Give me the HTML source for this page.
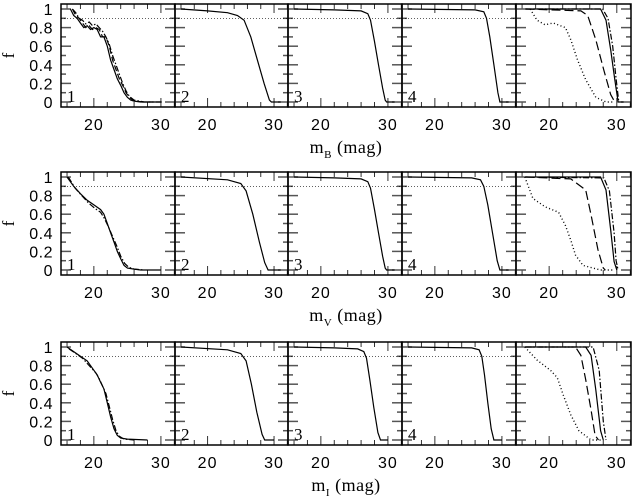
<!DOCTYPE html>
<html><head><meta charset="utf-8">
<style>
html,body{margin:0;padding:0;background:#fff;}
svg{display:block;font-family:"Liberation Sans",sans-serif;}
</style></head>
<body>
<svg id="chart" width="632" height="497" viewBox="0 0 632 497" xmlns="http://www.w3.org/2000/svg"></svg>
<script>
// ---- data ----
const bandLabels = ['B','V','I'];
const yTickLabels = ['0','0.2','0.4','0.6','0.8','1'];
const xTickLabels = ['20','30'];
// Row B
const b1aM=[16.5,17,17.5,18,18.5,19,19.5,20,20.5,21,21.5,22,22.5,23,23.5,24,24.5,25,25.5,26,27,30];
const b1aF=[1.0,0.93,0.9,0.85,0.8,0.82,0.78,0.8,0.78,0.7,0.7,0.6,0.45,0.35,0.25,0.18,0.1,0.05,0.02,0.01,0,0];
const b1bM=[16.8,17.3,17.8,18.3,18.8,19.3,19.8,20.3,20.8,21.3,21.8,22.3,22.8,23.3,23.8,24.3,24.8,25.3,26,27.5,29];
const b1bF=[1.0,0.96,0.9,0.88,0.84,0.86,0.82,0.84,0.8,0.76,0.7,0.62,0.5,0.4,0.3,0.2,0.12,0.06,0.02,0,0];
const b2M=[16,20,23,24.5,25.5,26.5,27.5,28.5,29.3,29.6,31];
const b2F=[1.0,0.98,0.96,0.93,0.88,0.7,0.45,0.2,0.02,0,0];
const b3M=[16,22,26,27,27.4,28,28.6,29.2,29.6,29.8,31];
const b3F=[1,0.99,0.98,0.95,0.88,0.65,0.4,0.15,0.02,0,0];
const b4M=[16,26,27.3,27.7,28.2,28.8,29.4,29.7,31];
const b4F=[1,0.99,0.97,0.9,0.7,0.4,0.1,0,0];
const b5dotM=[17.2,18.2,19.4,20.6,22.4,23.2,24.2,25.4,26.9,28.4,29.4];
const b5dotF=[1.0,0.88,0.83,0.85,0.8,0.67,0.45,0.24,0.05,0,0];
const b5dashM=[16.5,24.7,25.7,26.9,28.1,29.1,29.7];
const b5dashF=[1,0.98,0.93,0.67,0.34,0.08,0];
const b5solM=[16.5,27.6,28.4,29.1,29.7,30.2,31];
const b5solF=[1,1,0.88,0.56,0.24,0,0];
const b5ddM=[16.5,27.9,28.7,29.4,29.9,30.3];
const b5ddF=[1,1,0.9,0.6,0.25,0];
// Row V
const v1aM=[16,17,18,19,20,21,21.5,22,22.5,23,23.5,24,24.5,25,26,27,30];
const v1aF=[1.0,0.9,0.82,0.75,0.7,0.65,0.6,0.5,0.4,0.3,0.2,0.12,0.05,0.02,0.01,0,0];
const v1bM=[16.2,17.2,18.2,19.2,20.2,21,21.6,22.2,22.8,23.4,24,24.6,25.2,26,27.5];
const v1bF=[1.0,0.88,0.8,0.72,0.66,0.62,0.55,0.46,0.36,0.26,0.15,0.07,0.03,0.01,0];
const v2M=[16,23,25,25.8,26.8,27.8,28.6,29.1,31];
const v2F=[1,0.97,0.93,0.85,0.6,0.3,0.08,0,0];
const v3M=[16,22,26,27,27.4,28,28.6,29.2,29.6,29.8,31];
const v3F=[1,0.99,0.98,0.95,0.88,0.65,0.4,0.15,0.02,0,0];
const v4M=[16,25.5,26.8,27.3,27.9,28.6,29.3,29.7,31];
const v4F=[1,0.99,0.97,0.9,0.7,0.4,0.1,0,0];
const v5dotM=[16.4,17.6,19.4,21.4,22.4,23.2,23.9,25,27.6,29.6];
const v5dotF=[1.0,0.77,0.68,0.62,0.48,0.32,0.16,0.05,0,0];
const v5dashM=[16.5,23.2,25.4,26.2,27.2,28,28.3];
const v5dashF=[1,0.98,0.86,0.59,0.22,0.02,0];
const v5solM=[16.5,27.6,28.4,29.1,29.6,30];
const v5solF=[1,1,0.86,0.43,0.09,0];
const v5ddM=[16.5,28.1,28.9,29.6,29.9,30.2];
const v5ddF=[1,0.99,0.85,0.4,0.1,0];
// Row I
const i1aM=[16,17,18,19,20,20.5,21,21.5,22,22.5,23,23.5,24,25,28];
const i1aF=[1.0,0.95,0.9,0.85,0.75,0.7,0.62,0.55,0.4,0.25,0.12,0.05,0.02,0.01,0];
const i1bM=[16.3,17.3,18.3,19.3,20.3,20.8,21.3,21.8,22.3,22.8,23.3,23.8,24.5,26];
const i1bF=[0.98,0.93,0.88,0.8,0.72,0.66,0.58,0.5,0.36,0.22,0.1,0.04,0.01,0];
const i2M=[16,23,25,25.8,26.6,27.4,28.2,28.6,30];
const i2F=[1,0.97,0.93,0.85,0.6,0.3,0.06,0,0];
const i3M=[16,22,25.5,26.4,26.8,27.3,27.9,28.5,28.9,30];
const i3F=[1,0.99,0.98,0.95,0.88,0.65,0.35,0.08,0,0];
const i4M=[16,25.5,26.6,27,27.4,27.9,28.4,28.8,30];
const i4F=[1,0.99,0.97,0.9,0.7,0.4,0.12,0,0];
const i5dotM=[16.4,18.2,20.2,21.2,22.1,23.2,24.4,26.2,28];
const i5dotF=[1.0,0.86,0.75,0.67,0.48,0.27,0.1,0,0];
const i5dashM=[16.5,23.9,24.7,25.4,26.2,26.8,27.3];
const i5dashF=[1,1,0.91,0.65,0.32,0.05,0];
const i5solM=[16.5,25.4,26.2,26.9,27.6,28];
const i5solF=[1,1,0.91,0.54,0.1,0];
const i5ddM=[16.5,26.5,27.4,28,28.4];
const i5ddF=[1,1,0.75,0.2,0];

const STY={solid:'',dash:'6 3',ldash:'9 4',dot:'1 2.5',dd:'6 2 1.5 2'};
const rowsData=[
 [[[b1aM,b1aF,'solid'],[b1bM,b1bF,'dd'],[b1aM.map(m=>m+0.3),b1aF,'dash']],[[b2M,b2F,'solid']],[[b3M,b3F,'solid']],[[b4M,b4F,'solid']],
  [[b5dotM,b5dotF,'dot'],[b5dashM,b5dashF,'ldash'],[b5solM,b5solF,'solid'],[b5ddM,b5ddF,'dd']]],
 [[[v1aM,v1aF,'solid'],[v1bM,v1bF,'dd']],[[v2M,v2F,'solid']],[[v3M,v3F,'solid']],[[v4M,v4F,'solid']],
  [[v5dotM,v5dotF,'dot'],[v5dashM,v5dashF,'ldash'],[v5solM,v5solF,'solid'],[v5ddM,v5ddF,'dd']]],
 [[[i1aM,i1aF,'solid'],[i1bM,i1bF,'dd']],[[i2M,i2F,'solid']],[[i3M,i3F,'solid']],[[i4M,i4F,'solid']],
  [[i5dotM,i5dotF,'dot'],[i5dashM,i5dashF,'ldash'],[i5solM,i5solF,'solid'],[i5ddM,i5ddF,'dd']]]
];

// ---- layout ----
const NS='http://www.w3.org/2000/svg';
const svg=document.getElementById('chart');
const rowGeo=[{f1:9,f0:102},{f1:177,f0:270},{f1:347,f0:440}];
const colL=[61,175,288,402,516], colW=[114,113,114,114,115];
const xMin=15.1, xMax=32.1;
function mk(tag,attrs,parent){const e=document.createElementNS(NS,tag);for(const k in attrs)e.setAttribute(k,attrs[k]);(parent||svg).appendChild(e);return e;}

rowGeo.forEach((g,r)=>{
  const top=g.f1-5, bot=g.f0+5;
  const yS=f=>g.f0-(g.f0-g.f1)*f;
  const yl=mk('text',{x:14,y:(top+bot)/2,'font-size':17,'font-family':'Liberation Serif, serif','text-anchor':'middle',transform:`rotate(-90 14 ${(top+bot)/2})`});
  
  
  yl.textContent='f';
  yTickLabels.forEach(t=>{
    const tx=mk('text',{x:53,y:yS(parseFloat(t))+6,'font-size':16,'letter-spacing':0.5,'text-anchor':'end'});
    
    
    tx.textContent=t;
  });
  const xt=mk('text',{x:346,y:bot+46,'font-size':18,'letter-spacing':0.5,'font-family':'Liberation Serif, serif','text-anchor':'middle'});
  
  
  xt.innerHTML='m<tspan font-size="11" dy="5">'+bandLabels[r]+'</tspan><tspan dy="-5"> (mag)</tspan>';
  colL.forEach((L,c)=>{
    const W=colW[c];
    const xS=m=>L+(m-xMin)/(xMax-xMin)*W;
    const grp=mk('g',{});
    
    
    const clipId='cl'+r+c;
    const cp=mk('clipPath',{id:clipId},grp);mk('rect',{x:L,y:top,width:W,height:bot-top},cp);
    for(let m=16;m<=32;m+=2){
      const len=(m%10===0)?9:5;const x=xS(m);
      mk('line',{x1:x,x2:x,y1:bot,y2:bot-len,stroke:'#333','stroke-width':1},grp);
      mk('line',{x1:x,x2:x,y1:top,y2:top+len,stroke:'#333','stroke-width':1},grp);
    }
    for(let k=0;k<=10;k++){
      const y=yS(k/10);const len=(k%2===0)?10:5;
      mk('line',{x1:L,x2:L+len,y1:y,y2:y,stroke:'#555','stroke-width':1.5},grp);
      mk('line',{x1:L+W,x2:L+W-len,y1:y,y2:y,stroke:'#555','stroke-width':1.5},grp);
    }
    if(c<4){
      const ref=mk('line',{x1:L,x2:L+W,y1:yS(0.9),y2:yS(0.9),stroke:'#000','stroke-width':0.7,'stroke-dasharray':'1 2'},grp);
      
      
      const pn=mk('text',{x:L+6,y:g.f0,'font-size':17,'font-family':'Liberation Serif, serif'},grp);
      
      
      pn.textContent=String(c+1);
    }
    rowsData[r][c].forEach((s)=>{
      const [ms,fs,st]=s;
      const d=ms.map((m,i)=>(i?'L':'M')+xS(m).toFixed(1)+','+yS(fs[i]).toFixed(1)).join(' ');
      const p=mk('path',{d,fill:'none',stroke:'#000','stroke-width':st==='dot'?1.4:1.2,'stroke-dasharray':STY[st],'clip-path':`url(#${clipId})`},grp);
      
      
    });
    mk('rect',{x:L,y:top,width:W,height:bot-top,fill:'none',stroke:'#000','stroke-width':1.5},grp);
    xTickLabels.forEach(t=>{
      const tx=mk('text',{x:xS(parseFloat(t)),y:bot+23,'font-size':16,'letter-spacing':1,'text-anchor':'middle'},grp);
      
      
      tx.textContent=t;
    });
  });
});
</script>
</body></html>
